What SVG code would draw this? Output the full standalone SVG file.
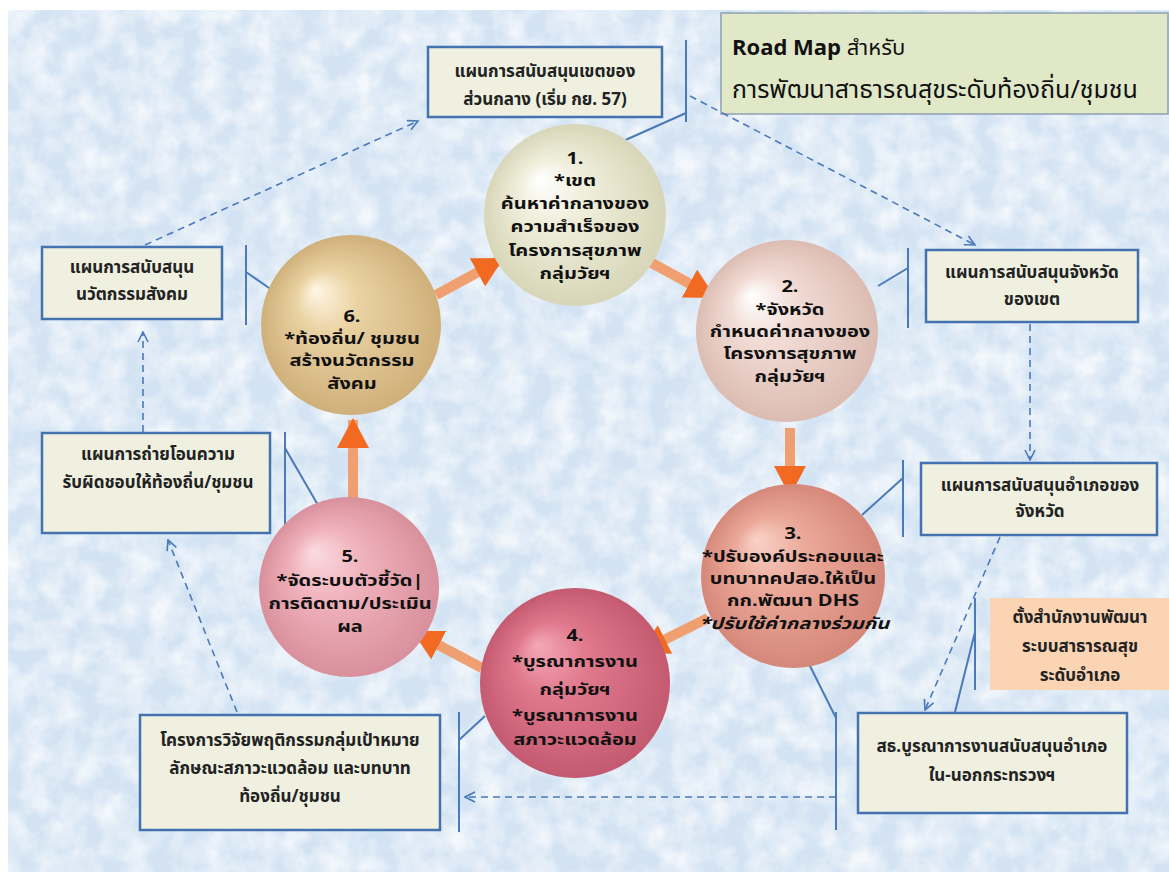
<svg xmlns="http://www.w3.org/2000/svg" width="1169" height="884" viewBox="0 0 1169 884">
<defs>
<style>
.bx{fill:#eff0e0;stroke:#4472b0;stroke-width:2.5}
.bt{font-family:"Noto Sans Thai","Noto Sans","DejaVu Sans",sans-serif;font-size:17px;font-weight:bold;fill:#222;text-anchor:middle}
.ct{font-family:"Noto Sans Thai","Noto Sans","DejaVu Sans",sans-serif;font-size:16px;font-weight:bold;fill:#111;text-anchor:middle}
.br{stroke:#4a7ab8;stroke-width:2;fill:none}
.da{stroke:#4a7ab8;stroke-width:1.6;fill:none;stroke-dasharray:7,5;marker-end:url(#va)}
.oa{stroke:#f0a070;stroke-width:10;fill:none;marker-end:url(#oh)}
</style>
<marker id="va" viewBox="0 0 12 12" refX="11" refY="6" markerWidth="12" markerHeight="12" markerUnits="userSpaceOnUse" orient="auto">
<path d="M1,1 L11,6 L1,11" fill="none" stroke="#4a7ab8" stroke-width="1.6"/>
</marker>
<marker id="oh" viewBox="0 0 30 32" refX="28" refY="16" markerWidth="30" markerHeight="32" markerUnits="userSpaceOnUse" orient="auto">
<path d="M0,0 L30,16 L0,32 z" fill="#f26a22"/>
</marker>
<filter id="tex" x="0" y="0" width="100%" height="100%">
<feTurbulence type="fractalNoise" baseFrequency="0.04" numOctaves="4" seed="4"/>
<feColorMatrix type="matrix" values="0 0 0 0 1  0 0 0 0 1  0 0 0 0 1  0 0 0 -1.8 1.25"/>
</filter>
<radialGradient id="g1" cx="0.5" cy="0.5" r="0.5" fx="0.3" fy="0.3">
<stop offset="0" stop-color="#ffffff"/><stop offset="0.35" stop-color="#f0efdc"/><stop offset="1" stop-color="#d8d6b8"/>
</radialGradient>
<radialGradient id="g2" cx="0.5" cy="0.5" r="0.5" fx="0.3" fy="0.3">
<stop offset="0" stop-color="#ffffff"/><stop offset="0.35" stop-color="#f2ddd6"/><stop offset="1" stop-color="#dcbcb2"/>
</radialGradient>
<radialGradient id="g3" cx="0.5" cy="0.5" r="0.5" fx="0.3" fy="0.3">
<stop offset="0" stop-color="#f9d2c8"/><stop offset="0.4" stop-color="#eba898"/><stop offset="1" stop-color="#d5887a"/>
</radialGradient>
<radialGradient id="g4" cx="0.5" cy="0.5" r="0.5" fx="0.3" fy="0.3">
<stop offset="0" stop-color="#f3a8b6"/><stop offset="0.4" stop-color="#e0788c"/><stop offset="1" stop-color="#c45a70"/>
</radialGradient>
<radialGradient id="g5" cx="0.5" cy="0.5" r="0.5" fx="0.3" fy="0.3">
<stop offset="0" stop-color="#fbdbe0"/><stop offset="0.4" stop-color="#f0b2bc"/><stop offset="1" stop-color="#d8909c"/>
</radialGradient>
<radialGradient id="g6" cx="0.5" cy="0.5" r="0.5" fx="0.3" fy="0.3">
<stop offset="0" stop-color="#fff6e4"/><stop offset="0.35" stop-color="#ead2a2"/><stop offset="1" stop-color="#cfb07a"/>
</radialGradient>
</defs>

<rect x="0" y="0" width="1169" height="884" fill="#ffffff"/>
<rect x="8" y="10" width="1161" height="862" fill="#d3e3f3"/>
<rect x="8" y="10" width="1161" height="862" filter="url(#tex)" opacity="0.75"/>

<g id="title">
<rect x="721" y="13" width="447" height="101" fill="#e0e8c8" stroke="#8fa0b0" stroke-width="1.5"/>
<text x="732" y="55" font-family="'Noto Sans Thai','Noto Sans','DejaVu Sans',sans-serif" font-size="22" fill="#111"><tspan font-weight="bold">Road Map</tspan> สำหรับ</text>
<text x="732" y="98" font-family="'Noto Sans Thai','Noto Sans','DejaVu Sans',sans-serif" font-size="25" fill="#111">การพัฒนาสาธารณสุขระดับท้องถิ่น/ชุมชน</text>
</g>

<g id="connectors">
<line class="oa" x1="436" y1="295" x2="502" y2="259"/>
<line class="oa" x1="650" y1="262" x2="714" y2="297"/>
<line class="oa" x1="790" y1="428" x2="790" y2="494"/>
<line class="oa" x1="708" y1="618" x2="640" y2="652"/>
<line class="oa" x1="482" y1="668" x2="414" y2="632"/>
<line class="oa" x1="353" y1="507" x2="353" y2="420"/>

<line class="da" x1="145" y1="245" x2="418" y2="121"/>
<line class="da" x1="690" y1="96" x2="975" y2="245"/>
<line class="da" x1="1030" y1="324" x2="1030" y2="460"/>
<line class="da" x1="1000" y1="537" x2="925" y2="710"/>
<line class="da" x1="836" y1="797" x2="465" y2="797"/>
<line class="da" x1="237" y1="712" x2="168" y2="540"/>
<line class="da" x1="143" y1="432" x2="143" y2="332"/>

<path class="br" d="M686,40 V122 M686,113 L603,150"/>
<path class="br" d="M246,245 V325 M246,272 L272,290"/>
<path class="br" d="M908,248 V328 M908,268 L878,286"/>
<path class="br" d="M285,432 V533 M285,448 L322,512"/>
<path class="br" d="M903,460 V537 M903,478 L862,515"/>
<path class="br" d="M975,598 V690 M975,632 L955,712"/>
<path class="br" d="M836,712 V830 M836,718 L808,662"/>
<path class="br" d="M459,712 V832 M459,740 L485,716"/>
</g>

<g id="box-central">
<rect class="bx" x="428" y="47" width="234" height="70"/>
<text class="bt" x="545" y="77">แผนการสนับสนุนเขตของ</text>
<text class="bt" x="545" y="105">ส่วนกลาง (เริ่ม กย. 57)</text>
</g>
<g id="box-innovation">
<rect class="bx" x="42" y="247" width="180" height="72"/>
<text class="bt" x="132" y="273">แผนการสนับสนุน</text>
<text class="bt" x="132" y="300">นวัตกรรมสังคม</text>
</g>
<g id="box-province">
<rect class="bx" x="926" y="250" width="212" height="72"/>
<text class="bt" x="1032" y="278">แผนการสนับสนุนจังหวัด</text>
<text class="bt" x="1032" y="305">ของเขต</text>
</g>
<g id="box-transfer">
<rect class="bx" x="42" y="433" width="228" height="100"/>
<text class="bt" x="158" y="460">แผนการถ่ายโอนความ</text>
<text class="bt" x="158" y="488">รับผิดชอบให้ท้องถิ่น/ชุมชน</text>
</g>
<g id="box-district">
<rect class="bx" x="921" y="463" width="236" height="72"/>
<text class="bt" x="1040" y="491">แผนการสนับสนุนอำเภอของ</text>
<text class="bt" x="1040" y="517">จังหวัด</text>
</g>
<g id="box-office">
<rect x="990" y="598" width="179" height="92" fill="#fbd4b4"/>
<text class="bt" x="1080" y="623">ตั้งสำนักงานพัฒนา</text>
<text class="bt" x="1080" y="652">ระบบสาธารณสุข</text>
<text class="bt" x="1080" y="681">ระดับอำเภอ</text>
</g>
<g id="box-moph">
<rect class="bx" x="858" y="713" width="269" height="100"/>
<text class="bt" x="992" y="752">สธ.บูรณาการงานสนับสนุนอำเภอ</text>
<text class="bt" x="992" y="781">ใน-นอกกระทรวงฯ</text>
</g>
<g id="box-research">
<rect class="bx" x="140" y="715" width="300" height="115"/>
<text class="bt" x="290" y="746">โครงการวิจัยพฤติกรรมกลุ่มเป้าหมาย</text>
<text class="bt" x="290" y="774">ลักษณะสภาวะแวดล้อม และบทบาท</text>
<text class="bt" x="290" y="802">ท้องถิ่น/ชุมชน</text>
</g>

<g id="c1">
<circle cx="575" cy="215" r="91" fill="url(#g1)"/>
<g transform="translate(575 0) scale(1.25 1)">
<text class="ct" x="0" y="164">1.</text>
<text class="ct" x="0" y="186">*เขต</text>
<text class="ct" x="0" y="209">ค้นหาค่ากลางของ</text>
<text class="ct" x="0" y="232">ความสำเร็จของ</text>
<text class="ct" x="0" y="256">โครงการสุขภาพ</text>
<text class="ct" x="0" y="279">กลุ่มวัยฯ</text>
</g>
</g>
<g id="c2">
<circle cx="787" cy="331" r="91" fill="url(#g2)"/>
<g transform="translate(790 0) scale(1.25 1)">
<text class="ct" x="0" y="292">2.</text>
<text class="ct" x="0" y="315">*จังหวัด</text>
<text class="ct" x="0" y="337">กำหนดค่ากลางของ</text>
<text class="ct" x="0" y="359">โครงการสุขภาพ</text>
<text class="ct" x="0" y="382">กลุ่มวัยฯ</text>
</g>
</g>
<g id="c3">
<circle cx="793" cy="576" r="92" fill="url(#g3)"/>
<g transform="translate(793 0) scale(1.25 1)">
<text class="ct" x="0" y="539">3.</text>
<text class="ct" x="0" y="562">*ปรับองค์ประกอบและ</text>
<text class="ct" x="0" y="584">บทบาทคปสอ.ให้เป็น</text>
<text class="ct" x="0" y="606">กก.พัฒนา DHS</text>
<text class="ct" x="1" y="629" font-size="13" font-style="italic">*ปรับใช้ค่ากลางร่วมกัน</text>
</g>
</g>
<g id="c4">
<circle cx="575" cy="683" r="95" fill="url(#g4)"/>
<g transform="translate(575 0) scale(1.25 1)">
<text class="ct" x="0" y="641">4.</text>
<text class="ct" x="0" y="667">*บูรณาการงาน</text>
<text class="ct" x="0" y="695" font-size="20">กลุ่มวัยฯ</text>
<text class="ct" x="0" y="721">*บูรณาการงาน</text>
<text class="ct" x="0" y="745">สภาวะแวดล้อม</text>
</g>
</g>
<g id="c5">
<circle cx="349" cy="587" r="90" fill="url(#g5)"/>
<g transform="translate(350 0) scale(1.25 1)">
<text class="ct" x="0" y="562">5.</text>
<text class="ct" x="0" y="586">*จัดระบบตัวชี้วัด|</text>
<text class="ct" x="0" y="609">การติดตาม/ประเมิน</text>
<text class="ct" x="0" y="632">ผล</text>
</g>
</g>
<g id="c6">
<circle cx="351" cy="325" r="90" fill="url(#g6)"/>
<g transform="translate(352 0) scale(1.25 1)">
<text class="ct" x="0" y="322">6.</text>
<text class="ct" x="0" y="344">*ท้องถิ่น/ ชุมชน</text>
<text class="ct" x="0" y="366">สร้างนวัตกรรม</text>
<text class="ct" x="0" y="389">สังคม</text>
</g>
</g>
</svg>
